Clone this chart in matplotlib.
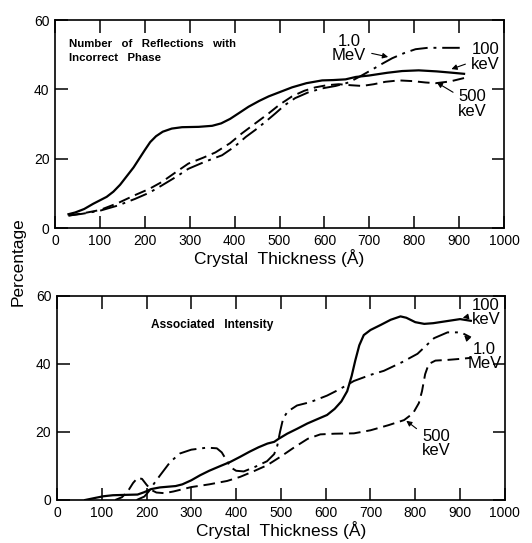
import matplotlib.pyplot as plt

plt.rcParams['font.family'] = ['Liberation Sans', 'DejaVu Sans']

# top panel: number of reflections with incorrect phase
top_100kev_x = [30, 45, 65, 85, 100, 115, 130, 145, 160, 175, 190, 200, 212, 225, 240, 260, 283, 320, 350, 370,
                390, 410, 431, 455, 476, 500, 528, 560, 595, 620, 647, 670, 699, 740, 773, 810, 850, 877, 911]
top_100kev_y = [4.0, 4.5, 5.5, 7.0, 8.0, 9.0, 10.5, 12.5, 15.0, 17.5, 20.5, 22.5, 24.8, 26.5, 27.8, 28.7, 29.1,
                29.2, 29.5, 30.2, 31.5, 33.2, 35.0, 36.7, 38.0, 39.2, 40.6, 41.8, 42.6, 42.7, 42.9, 43.6, 44.0,
                44.8, 45.3, 45.5, 45.2, 44.9, 44.5]

top_500kev_x = [30, 60, 100, 140, 178, 210, 238, 270, 297, 330, 357, 390, 416, 446, 476, 500, 528, 555, 580,
                605, 632, 660, 684, 710, 736, 766, 796, 825, 848, 880, 918]
top_500kev_y = [3.6, 4.2, 5.2, 7.2, 9.5, 11.3, 13.3, 16.2, 18.6, 20.3, 21.8, 24.5, 27.3, 30.2, 33.1, 35.6, 38.0,
                39.6, 40.6, 41.2, 41.5, 41.2, 41.0, 41.5, 42.2, 42.6, 42.4, 42.0, 41.8, 42.3, 43.5]

top_1mev_x = [30, 60, 100, 140, 178, 210, 238, 270, 297, 335, 372, 400, 425, 446, 470, 491, 512, 535, 565, 595,
              625, 654, 680, 706, 730, 751, 778, 803, 830, 870, 911]
top_1mev_y = [3.6, 4.1, 5.0, 6.5, 8.4, 10.2, 12.3, 14.8, 17.1, 19.2, 21.0, 23.5, 26.3, 28.3, 30.8, 33.1, 35.5,
              37.5, 39.2, 40.3, 41.0, 42.0, 43.8, 45.7, 47.5, 49.0, 50.5, 51.6, 52.0, 52.0, 52.0]

# bottom panel: associated intensity
bot_100kev_x = [63, 85, 104, 125, 150, 180, 195, 210, 230, 265, 280, 300, 320, 340, 365, 387, 409, 430, 450,
                470, 485, 495, 514, 537, 559, 580, 603, 620, 635, 648, 658, 666, 675, 685, 700, 723, 745, 767,
                780, 800, 820, 840, 870, 900, 924]
bot_100kev_y = [0, 0.6, 1.1, 1.4, 1.5, 1.6, 2.3, 3.2, 3.7, 4.1, 4.6, 5.8, 7.3, 8.6, 10.0, 11.2, 12.7, 14.2, 15.5,
                16.6, 17.1, 18.0, 19.5, 21.0, 22.5, 23.7, 25.0, 26.8, 29.0, 32.0, 36.5, 41.0, 45.5, 48.5, 50.0,
                51.5, 53.0, 54.0, 53.6, 52.3, 51.8, 52.0, 52.6, 53.2, 52.7]

bot_500kev_x = [130, 145, 158, 170, 180, 190, 200, 210, 222, 240, 260, 300, 340, 380, 409, 440, 469, 500, 530,
                560, 588, 620, 663, 700, 740, 775, 795, 808, 815, 822, 830, 845, 872, 900, 924]
bot_500kev_y = [0, 0.8, 2.5, 5.0, 6.5, 6.2, 4.5, 3.0, 2.2, 2.0, 2.5, 3.8, 4.6, 5.6, 6.8, 8.5, 10.2, 12.8, 15.5,
                18.0, 19.3, 19.5, 19.6, 20.5, 22.0, 23.5, 25.5, 28.5, 32.0, 37.0, 40.0, 41.0, 41.2, 41.5, 41.8]

bot_1mev_x = [178, 195, 205, 215, 230, 253, 275, 300, 335, 357, 368, 378, 388, 400, 417, 440, 469, 485, 492, 498,
              505, 515, 536, 566, 603, 630, 663, 700, 730, 770, 805, 825, 842, 872, 902, 924]
bot_1mev_y = [0, 1.0, 2.5, 4.5, 7.2, 11.2, 13.7, 14.8, 15.4, 15.2, 14.0, 11.8, 9.6, 8.6, 8.4, 9.6, 11.4, 13.5,
              16.0, 20.0, 24.0, 26.0, 27.8, 28.8, 30.7, 32.5, 35.0, 36.8, 38.0, 40.5, 43.0, 45.5, 47.6, 49.3,
              49.3, 47.8]

xticks = list(range(0, 1001, 100))
yticks = [0, 20, 40, 60]

solid = dict(color='black', lw=1.6, ls='-')
dashed = dict(color='black', lw=1.4, ls=(0, (6, 3)))
dashdot = dict(color='black', lw=1.4, ls=(0, (9, 3, 1.5, 3)))
arrow = dict(arrowstyle='-|>', color='black', lw=0.8, mutation_scale=8)

fig = plt.figure(figsize=(5.32, 5.43), dpi=100)
ax1 = fig.add_axes([0.1034, 0.580, 0.844, 0.383])
ax2 = fig.add_axes([0.107, 0.0792, 0.842, 0.3757])

ax1.plot(top_100kev_x, top_100kev_y, **solid)
ax1.plot(top_500kev_x, top_500kev_y, **dashed)
ax1.plot(top_1mev_x, top_1mev_y, **dashdot)

ax2.plot(bot_100kev_x, bot_100kev_y, **solid)
ax2.plot(bot_500kev_x, bot_500kev_y, **dashed)
ax2.plot(bot_1mev_x, bot_1mev_y, **dashdot)

for ax in (ax1, ax2):
    ax.set_xlim(0, 1000)
    ax.set_ylim(0, 60)
    ax.set_xticks(xticks)
    ax.set_yticks(yticks)
    ax.tick_params(direction='in', top=True, right=True, length=9, width=1.1,
                   labelsize=10, pad=4)
    for s in ax.spines.values():
        s.set_linewidth(1.2)
    ax.set_xlabel('Crystal  Thickness (Å)', fontsize=12.5, labelpad=1)

ax1.text(31, 51, 'Number   of   Reflections   with\nIncorrect   Phase', fontsize=8.2,
         fontweight='bold', ha='left', va='center', linespacing=1.55)
ax2.text(210, 51.5, 'Associated   Intensity', fontsize=8.6, fontweight='bold',
         ha='left', va='center')

lab = dict(fontsize=12, ha='center', va='center', linespacing=0.95)
ax1.annotate('1.0\nMeV', xy=(748, 49.2), xytext=(655, 51.8), arrowprops=arrow, **lab)
ax1.annotate('100\nkeV', xy=(877, 45.6), xytext=(958, 49.3), arrowprops=arrow, **lab)
ax1.annotate('500\nkeV', xy=(845, 42.4), xytext=(930, 35.8), arrowprops=arrow, **lab)

ax2.annotate('100\nkeV', xy=(900, 53.4), xytext=(958, 55.2), arrowprops=arrow, **lab)
ax2.annotate('1.0\nMeV', xy=(905, 49.0), xytext=(955, 42.2), arrowprops=arrow, **lab)
ax2.annotate('500\nkeV', xy=(775, 23.8), xytext=(846, 16.6), arrowprops=arrow, **lab)

fig.text(18 / 532, 1 - 262 / 543, 'Percentage', rotation=90, fontsize=12.5,
         ha='center', va='center')

fig.savefig('out.png', dpi=100)
